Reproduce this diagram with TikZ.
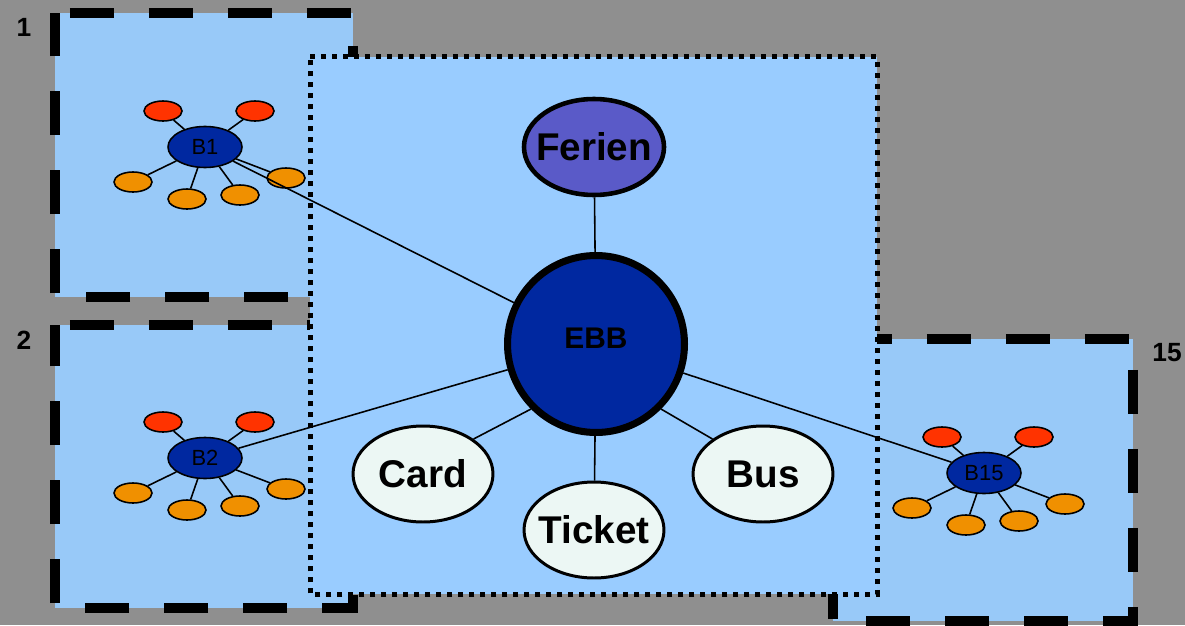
\documentclass[tikz,border=0pt]{standalone}
\usepackage{fontspec}
\setmainfont{Liberation Sans}
\usetikzlibrary{shapes.geometric}

\definecolor{bggray}{RGB}{143,143,143}
\definecolor{boxblue}{RGB}{152,201,248}
\definecolor{midblue}{RGB}{153,204,255}
\definecolor{hubblue}{RGB}{0,40,160}
\definecolor{ferienblue}{RGB}{90,90,200}
\definecolor{leafwhite}{RGB}{236,247,244}
\definecolor{satred}{RGB}{255,51,0}
\definecolor{satorange}{RGB}{240,144,0}

\tikzset{
  bframe/.style={draw=black, line width=0.2cm, dash pattern=on 0.88cm off 0.70cm, dash phase=1.28cm, fill=boxblue},
  cframe/.style={draw=black, line width=0.1cm, dash pattern=on 0.1cm off 0.12cm, fill=midblue},
  hub/.style={ellipse, draw, line width=0.9pt, fill=hubblue, minimum width=1.48cm, minimum height=0.82cm, inner sep=0pt, font=\fontsize{12.5}{14}\selectfont},
  sat/.style={ellipse, draw, line width=0.9pt, minimum width=0.76cm, minimum height=0.40cm, inner sep=0pt},
  topic/.style={ellipse, draw, line width=1.7pt, fill=leafwhite, minimum width=2.8cm, minimum height=1.92cm, inner ysep=0pt, inner xsep=-0.17cm, font=\fontsize{22}{26}\selectfont\bfseries},
  center/.style={circle, draw, line width=4pt, fill=hubblue, minimum size=3.54cm, text depth=7pt, font=\fontsize{17}{20}\selectfont\bfseries},
  link/.style={draw, line width=0.9pt},
  boxnum/.style={font=\fontsize{15}{18}\selectfont\bfseries}
}

\begin{document}
\begin{tikzpicture}[x=0.02cm, y=-0.02cm]
  % background
  \fill[bggray] (0,0) rectangle (1185,625);
  \useasboundingbox (0,0) rectangle (1185,625);

  % department boxes
  \path[bframe] (55,13) -- (353,13) -- (353,297) -- (55,297) -- cycle;
  \path[bframe] (55,325) -- (353,325) -- (353,608) -- (55,608) -- cycle;
  \path[bframe] (833,339) -- (1133,339) -- (1133,621) -- (833,621) -- cycle;

  % central area
  \path[cframe] (310,57) -- (877,57) -- (877,594) -- (310,594) -- cycle;

  % box numbers
  \node[boxnum] (n1) at (24,27) {1};
  \node[boxnum] (n2) at (24,340) {2};
  \node[boxnum] (n15) at (1167,353) {15};

  % departments and their members
  \foreach \hx/\hy/\hn in {205/147/B1, 205/458/B2, 984/473/B15} {
    \node[hub] (\hn) at (\hx,\hy) {\hn};
    \node[sat, fill=satred] (\hn-r1) at ({\hx-42},{\hy-36}) {};
    \node[sat, fill=satred] (\hn-r2) at ({\hx+50},{\hy-36}) {};
    \node[sat, fill=satorange] (\hn-o1) at ({\hx-72},{\hy+35}) {};
    \node[sat, fill=satorange] (\hn-o2) at ({\hx-18},{\hy+52}) {};
    \node[sat, fill=satorange] (\hn-o3) at ({\hx+35},{\hy+48}) {};
    \node[sat, fill=satorange] (\hn-o4) at ({\hx+81},{\hy+31}) {};
    \foreach \s in {r1,r2,o1,o2,o3,o4}
      \draw[link] (\hn) -- (\hn-\s);
  }

  % central topics
  \node[center] (EBB) at (596,344) {EBB};
  \node[topic, fill=ferienblue, line width=2.6pt] (Ferien) at (594,147) {Ferien};
  \node[topic] (Card) at (423,474) {Card};
  \node[topic] (Ticket) at (594,530) {Ticket};
  \node[topic] (Bus) at (763,474) {Bus};

  % connections
  \draw[link] (Ferien) -- (EBB);
  \draw[link] (EBB.south west) -- (Card.north east);
  \draw[link] (EBB) -- (Ticket);
  \draw[link] (EBB.south east) -- (Bus.north west);
  \draw[link] (B1) -- (EBB);
  \draw[link] (B2) -- (EBB);
  \draw[link] (B15) -- (EBB);
\end{tikzpicture}
\end{document}
